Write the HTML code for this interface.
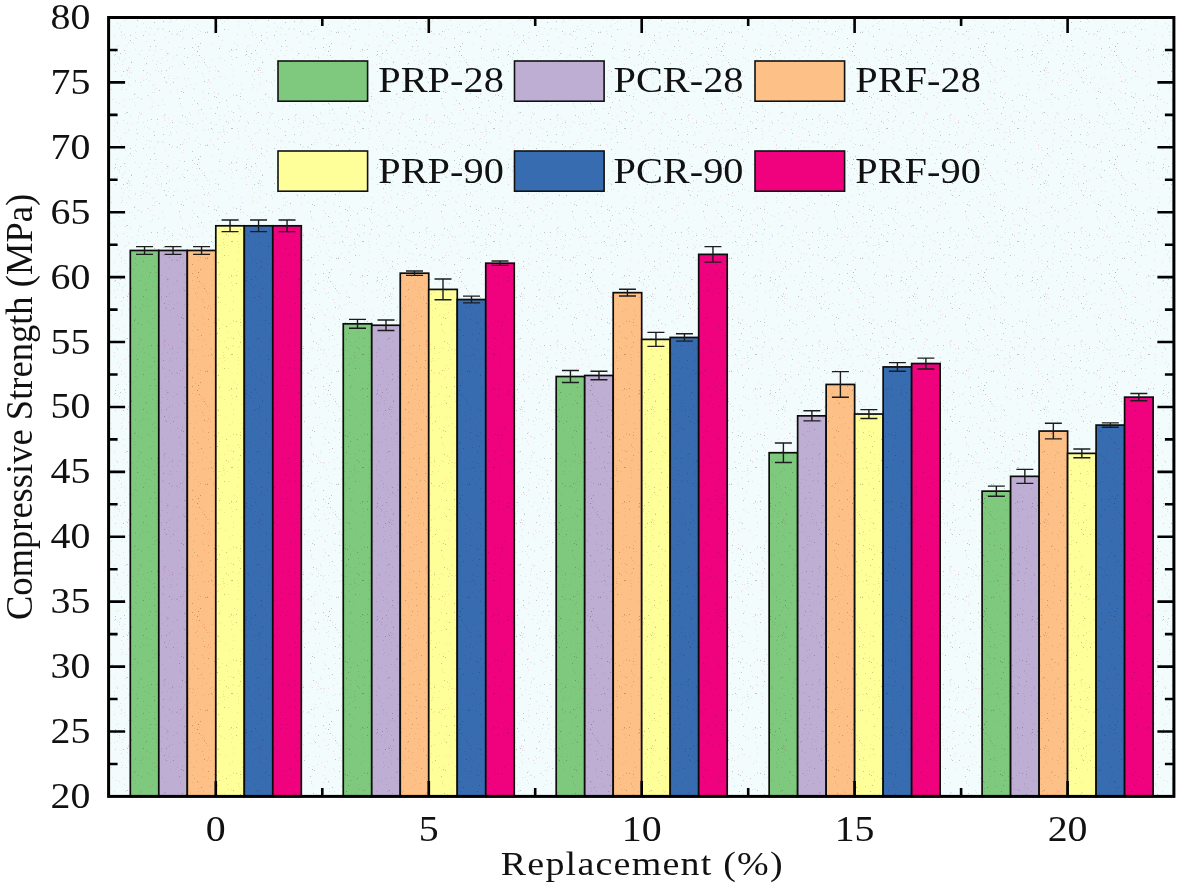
<!DOCTYPE html>
<html lang="en"><head><meta charset="utf-8"><title>Compressive Strength vs Replacement</title>
<style>html,body{margin:0;padding:0;background:#fff}body{width:1180px;height:888px;overflow:hidden}svg{display:block}text{font-family:"Liberation Serif","Times New Roman",serif;fill:#111}</style>
</head><body>
<svg width="1180" height="888" viewBox="0 0 1180 888">
<rect x="0" y="0" width="1180" height="888" fill="#ffffff"/>
<rect x="108.6" y="17.5" width="1065.3" height="778.9" fill="#f3fcfd"/>
<g stroke="#0c0c0c" stroke-width="1.7">
<rect x="130.30" y="250.47" width="28.50" height="545.93" fill="#7fc97f"/>
<rect x="158.80" y="250.47" width="28.50" height="545.93" fill="#beaed4"/>
<rect x="187.30" y="250.47" width="28.50" height="545.93" fill="#fdc086"/>
<rect x="215.80" y="225.81" width="28.50" height="570.59" fill="#ffff99"/>
<rect x="244.30" y="225.81" width="28.50" height="570.59" fill="#386cb0"/>
<rect x="272.80" y="225.81" width="28.50" height="570.59" fill="#f0027f"/>
<rect x="343.25" y="323.82" width="28.50" height="472.58" fill="#7fc97f"/>
<rect x="371.75" y="325.25" width="28.50" height="471.15" fill="#beaed4"/>
<rect x="400.25" y="273.19" width="28.50" height="523.21" fill="#fdc086"/>
<rect x="428.75" y="289.42" width="28.50" height="506.98" fill="#ffff99"/>
<rect x="457.25" y="299.54" width="28.50" height="496.86" fill="#386cb0"/>
<rect x="485.75" y="263.19" width="28.50" height="533.21" fill="#f0027f"/>
<rect x="556.20" y="376.52" width="28.50" height="419.88" fill="#7fc97f"/>
<rect x="584.70" y="375.49" width="28.50" height="420.91" fill="#beaed4"/>
<rect x="613.20" y="292.66" width="28.50" height="503.74" fill="#fdc086"/>
<rect x="641.70" y="339.40" width="28.50" height="457.00" fill="#ffff99"/>
<rect x="670.20" y="337.45" width="28.50" height="458.95" fill="#386cb0"/>
<rect x="698.70" y="254.37" width="28.50" height="542.03" fill="#f0027f"/>
<rect x="769.15" y="452.73" width="28.50" height="343.67" fill="#7fc97f"/>
<rect x="797.65" y="415.86" width="28.50" height="380.54" fill="#beaed4"/>
<rect x="826.15" y="384.44" width="28.50" height="411.96" fill="#fdc086"/>
<rect x="854.65" y="414.04" width="28.50" height="382.36" fill="#ffff99"/>
<rect x="883.15" y="366.92" width="28.50" height="429.48" fill="#386cb0"/>
<rect x="911.65" y="363.54" width="28.50" height="432.86" fill="#f0027f"/>
<rect x="982.10" y="491.15" width="28.50" height="305.25" fill="#7fc97f"/>
<rect x="1010.60" y="476.35" width="28.50" height="320.05" fill="#beaed4"/>
<rect x="1039.10" y="431.05" width="28.50" height="365.35" fill="#fdc086"/>
<rect x="1067.60" y="453.38" width="28.50" height="343.02" fill="#ffff99"/>
<rect x="1096.10" y="425.08" width="28.50" height="371.32" fill="#386cb0"/>
<rect x="1124.60" y="397.16" width="28.50" height="399.24" fill="#f0027f"/>
</g>
<g stroke="#1c1c1c" stroke-width="1.4" fill="none">
<path d="M144.55 246.58V254.37M136.05 246.58h17M136.05 254.37h17"/>
<path d="M173.05 246.58V254.37M164.55 246.58h17M164.55 254.37h17"/>
<path d="M201.55 246.58V254.37M193.05 246.58h17M193.05 254.37h17"/>
<path d="M230.05 219.96V231.65M221.55 219.96h17M221.55 231.65h17"/>
<path d="M258.55 219.96V231.65M250.05 219.96h17M250.05 231.65h17"/>
<path d="M287.05 219.96V231.65M278.55 219.96h17M278.55 231.65h17"/>
<path d="M357.50 319.40V328.23M349.00 319.40h17M349.00 328.23h17"/>
<path d="M386.00 320.05V330.44M377.50 320.05h17M377.50 330.44h17"/>
<path d="M414.50 270.98V275.40M406.00 270.98h17M406.00 275.40h17"/>
<path d="M443.00 279.03V299.80M434.50 279.03h17M434.50 299.80h17"/>
<path d="M471.50 296.17V302.92M463.00 296.17h17M463.00 302.92h17"/>
<path d="M500.00 260.99V265.40M491.50 260.99h17M491.50 265.40h17"/>
<path d="M570.45 370.55V382.50M561.95 370.55h17M561.95 382.50h17"/>
<path d="M598.95 371.20V379.77M590.45 371.20h17M590.45 379.77h17"/>
<path d="M627.45 289.29V296.04M618.95 289.29h17M618.95 296.04h17"/>
<path d="M655.95 332.39V346.41M647.45 332.39h17M647.45 346.41h17"/>
<path d="M684.45 333.81V341.08M675.95 333.81h17M675.95 341.08h17"/>
<path d="M712.95 246.58V262.16M704.45 246.58h17M704.45 262.16h17"/>
<path d="M783.40 442.99V462.46M774.90 442.99h17M774.90 462.46h17"/>
<path d="M811.90 410.80V420.92M803.40 410.80h17M803.40 420.92h17"/>
<path d="M840.40 371.59V397.29M831.90 371.59h17M831.90 397.29h17"/>
<path d="M868.90 409.63V418.45M860.40 409.63h17M860.40 418.45h17"/>
<path d="M897.40 362.63V371.20M888.90 362.63h17M888.90 371.20h17"/>
<path d="M925.90 358.09V368.99M917.40 358.09h17M917.40 368.99h17"/>
<path d="M996.35 486.09V496.21M987.85 486.09h17M987.85 496.21h17"/>
<path d="M1024.85 469.34V483.36M1016.35 469.34h17M1016.35 483.36h17"/>
<path d="M1053.35 423.26V438.84M1044.85 423.26h17M1044.85 438.84h17"/>
<path d="M1081.85 448.96V457.79M1073.35 448.96h17M1073.35 457.79h17"/>
<path d="M1110.35 422.87V427.28M1101.85 422.87h17M1101.85 427.28h17"/>
<path d="M1138.85 393.53V400.80M1130.35 393.53h17M1130.35 400.80h17"/>
</g>
<defs><pattern id="nz" width="131" height="113" patternUnits="userSpaceOnUse">
<path fill="#b9a58a" fill-opacity=".25" d="M82 19h1v1h-1zM101 83h1v1h-1zM12 9h1v1h-1zM24 46h1v1h-1zM14 64h1v1h-1zM54 4h1v1h-1zM22 55h1v1h-1zM107 8h1v1h-1zM61 11h1v1h-1zM108 7h1v1h-1zM31 28h1v1h-1zM15 73h1v1h-1zM101 6h1v1h-1zM56 5h1v1h-1zM34 37h1v1h-1zM107 18h1v1h-1zM30 73h1v1h-1zM78 71h1v1h-1zM46 13h1v1h-1zM48 47h1v1h-1zM24 70h1v1h-1zM16 72h1v1h-1zM15 79h1v1h-1zM52 63h1v1h-1zM109 99h1v1h-1zM80 59h1v1h-1zM116 46h1v1h-1zM76 31h1v1h-1zM46 89h1v1h-1zM62 10h1v1h-1zM76 67h1v1h-1zM126 112h1v1h-1zM87 93h1v1h-1zM114 36h1v1h-1zM18 15h1v1h-1zM107 21h1v1h-1zM87 19h1v1h-1zM125 53h1v1h-1zM10 85h1v1h-1zM19 97h1v1h-1zM80 43h1v1h-1zM89 76h1v1h-1zM127 74h1v1h-1zM116 8h1v1h-1zM23 34h1v1h-1zM121 89h1v1h-1zM16 7h1v1h-1zM79 82h1v1h-1zM114 36h1v1h-1zM98 85h1v1h-1zM88 2h1v1h-1zM118 45h1v1h-1zM43 78h1v1h-1zM29 63h1v1h-1zM15 27h1v1h-1zM73 16h1v1h-1zM63 50h1v1h-1zM100 111h1v1h-1zM127 10h1v1h-1zM42 57h1v1h-1zM102 70h1v1h-1zM71 17h1v1h-1zM110 110h1v1h-1zM71 90h1v1h-1zM106 45h1v1h-1zM97 29h1v1h-1zM38 10h1v1h-1zM45 19h1v1h-1zM59 84h1v1h-1zM59 1h1v1h-1zM124 106h1v1h-1zM46 33h1v1h-1zM72 0h1v1h-1zM37 53h1v1h-1zM94 78h1v1h-1zM81 16h1v1h-1zM13 58h1v1h-1zM100 50h1v1h-1zM102 50h1v1h-1zM26 61h1v1h-1zM102 7h1v1h-1zM48 8h1v1h-1zM53 56h1v1h-1zM41 14h1v1h-1zM87 76h1v1h-1zM13 13h1v1h-1zM0 72h1v1h-1zM38 68h1v1h-1zM25 46h1v1h-1zM6 9h1v1h-1zM53 78h1v1h-1zM96 19h1v1h-1zM64 44h1v1h-1zM93 60h1v1h-1zM31 14h1v1h-1zM124 59h1v1h-1zM122 61h1v1h-1zM79 10h1v1h-1zM36 13h1v1h-1zM87 94h1v1h-1zM67 61h1v1h-1zM41 66h1v1h-1zM5 26h1v1h-1zM92 18h1v1h-1zM6 97h1v1h-1zM76 82h1v1h-1zM23 89h1v1h-1zM66 66h1v1h-1zM93 21h1v1h-1zM91 98h1v1h-1zM57 68h1v1h-1zM128 42h1v1h-1zM57 78h1v1h-1zM49 103h1v1h-1zM61 104h1v1h-1zM102 94h1v1h-1zM58 25h1v1h-1zM126 45h1v1h-1zM7 3h1v1h-1zM71 60h1v1h-1zM66 24h1v1h-1zM88 57h1v1h-1zM89 46h1v1h-1zM20 28h1v1h-1zM26 29h1v1h-1zM120 25h1v1h-1zM86 26h1v1h-1zM123 79h1v1h-1zM0 61h1v1h-1zM88 102h1v1h-1zM21 106h1v1h-1zM30 49h1v1h-1zM51 61h1v1h-1zM45 55h1v1h-1zM85 11h1v1h-1zM101 59h1v1h-1zM102 95h1v1h-1zM21 92h1v1h-1zM40 21h1v1h-1zM32 3h1v1h-1zM38 75h1v1h-1zM119 103h1v1h-1zM37 78h1v1h-1zM121 84h1v1h-1zM89 19h1v1h-1zM33 2h1v1h-1zM3 102h1v1h-1zM26 67h1v1h-1zM35 55h1v1h-1zM49 105h1v1h-1zM54 3h1v1h-1zM64 27h1v1h-1zM74 64h1v1h-1zM61 97h1v1h-1zM83 33h1v1h-1zM107 106h1v1h-1zM33 7h1v1h-1zM90 58h1v1h-1zM107 105h1v1h-1zM128 16h1v1h-1zM38 67h1v1h-1zM130 2h1v1h-1zM112 99h1v1h-1zM46 77h1v1h-1zM1 99h1v1h-1zM38 22h1v1h-1zM36 60h1v1h-1zM30 71h1v1h-1zM15 41h1v1h-1zM123 100h1v1h-1zM27 71h1v1h-1zM14 31h1v1h-1zM48 35h1v1h-1zM10 98h1v1h-1zM25 64h1v1h-1zM115 71h1v1h-1zM7 97h1v1h-1zM16 56h1v1h-1zM83 78h1v1h-1zM129 77h1v1h-1zM51 88h1v1h-1zM70 57h1v1h-1zM130 68h1v1h-1zM122 64h1v1h-1zM63 89h1v1h-1zM66 71h1v1h-1zM51 107h1v1h-1zM114 17h1v1h-1zM106 15h1v1h-1zM100 56h1v1h-1zM80 9h1v1h-1zM61 54h1v1h-1zM18 27h1v1h-1zM77 100h1v1h-1zM31 99h1v1h-1zM39 91h1v1h-1zM93 18h1v1h-1zM64 17h1v1h-1zM119 28h1v1h-1zM24 50h1v1h-1zM124 20h1v1h-1zM57 20h1v1h-1zM110 65h1v1h-1zM103 43h1v1h-1zM107 25h1v1h-1zM91 40h1v1h-1zM23 92h1v1h-1zM93 2h1v1h-1zM86 70h1v1h-1zM117 56h1v1h-1zM4 49h1v1h-1zM84 66h1v1h-1zM75 65h1v1h-1zM16 14h1v1h-1zM58 112h1v1h-1zM26 10h1v1h-1zM67 34h1v1h-1zM10 99h1v1h-1zM46 34h1v1h-1zM33 104h1v1h-1zM108 108h1v1h-1zM66 51h1v1h-1zM38 68h1v1h-1zM126 89h1v1h-1zM83 11h1v1h-1zM71 7h1v1h-1zM46 54h1v1h-1zM18 34h1v1h-1zM4 81h1v1h-1zM22 102h1v1h-1z"/>
<path fill="#f06aa8" fill-opacity=".22" d="M66 10h1v1h-1zM56 8h1v1h-1zM67 110h1v1h-1zM31 58h1v1h-1zM2 43h1v1h-1zM106 34h1v1h-1zM33 5h1v1h-1zM61 14h1v1h-1zM41 33h1v1h-1zM12 23h1v1h-1zM51 39h1v1h-1zM78 67h1v1h-1zM52 37h1v1h-1zM114 64h1v1h-1zM45 34h1v1h-1zM88 102h1v1h-1zM4 32h1v1h-1zM9 1h1v1h-1zM4 93h1v1h-1zM129 70h1v1h-1zM48 65h1v1h-1zM121 31h1v1h-1zM114 13h1v1h-1zM110 84h1v1h-1zM126 69h1v1h-1zM100 64h1v1h-1zM78 88h1v1h-1zM55 29h1v1h-1zM87 25h1v1h-1zM35 51h1v1h-1zM88 6h1v1h-1zM33 1h1v1h-1zM18 80h1v1h-1zM65 55h1v1h-1zM41 7h1v1h-1zM21 85h1v1h-1zM97 111h1v1h-1zM129 85h1v1h-1zM72 76h1v1h-1zM62 88h1v1h-1zM75 5h1v1h-1zM117 23h1v1h-1zM40 34h1v1h-1zM114 0h1v1h-1zM67 46h1v1h-1zM84 70h1v1h-1zM82 31h1v1h-1zM8 112h1v1h-1zM79 27h1v1h-1zM91 23h1v1h-1zM0 42h1v1h-1zM97 10h1v1h-1zM121 35h1v1h-1zM128 83h1v1h-1zM51 31h1v1h-1zM129 99h1v1h-1zM1 11h1v1h-1zM67 104h1v1h-1zM22 18h1v1h-1zM102 75h1v1h-1zM10 50h1v1h-1zM5 38h1v1h-1zM77 80h1v1h-1zM59 10h1v1h-1zM39 84h1v1h-1zM99 97h1v1h-1zM83 92h1v1h-1zM126 19h1v1h-1zM72 92h1v1h-1zM37 5h1v1h-1zM109 93h1v1h-1zM129 17h1v1h-1zM129 72h1v1h-1zM4 105h1v1h-1zM58 10h1v1h-1zM7 5h1v1h-1zM34 81h1v1h-1zM92 13h1v1h-1zM96 106h1v1h-1zM115 71h1v1h-1zM12 80h1v1h-1zM4 80h1v1h-1zM62 62h1v1h-1zM67 0h1v1h-1zM116 102h1v1h-1zM17 95h1v1h-1zM128 68h1v1h-1zM23 84h1v1h-1zM16 95h1v1h-1zM121 32h1v1h-1zM19 108h1v1h-1zM67 30h1v1h-1zM52 29h1v1h-1zM117 63h1v1h-1zM97 9h1v1h-1zM122 87h1v1h-1zM73 98h1v1h-1zM11 78h1v1h-1zM50 9h1v1h-1zM37 42h1v1h-1zM65 83h1v1h-1zM77 79h1v1h-1zM34 1h1v1h-1zM123 7h1v1h-1zM124 34h1v1h-1zM25 88h1v1h-1zM55 86h1v1h-1zM125 37h1v1h-1zM73 59h1v1h-1zM119 59h1v1h-1zM30 70h1v1h-1zM51 39h1v1h-1zM21 60h1v1h-1zM4 37h1v1h-1zM117 9h1v1h-1zM129 57h1v1h-1zM68 49h1v1h-1zM53 26h1v1h-1zM19 74h1v1h-1zM23 18h1v1h-1z"/>
<path fill="#5a3f58" fill-opacity=".3" d="M67 46h1v1h-1zM33 77h1v1h-1zM130 35h1v1h-1zM28 90h1v1h-1zM93 29h1v1h-1zM127 112h1v1h-1zM124 50h1v1h-1zM6 20h1v1h-1zM0 62h1v1h-1zM115 51h1v1h-1zM77 93h1v1h-1zM36 53h1v1h-1zM88 48h1v1h-1zM80 15h1v1h-1zM84 0h1v1h-1zM83 96h1v1h-1zM86 107h1v1h-1zM101 15h1v1h-1zM50 91h1v1h-1zM3 94h1v1h-1zM74 32h1v1h-1zM95 8h1v1h-1zM100 49h1v1h-1zM19 46h1v1h-1zM109 96h1v1h-1zM70 109h1v1h-1zM12 35h1v1h-1zM26 6h1v1h-1zM73 81h1v1h-1zM38 31h1v1h-1zM68 55h1v1h-1zM130 40h1v1h-1zM48 98h1v1h-1zM95 100h1v1h-1zM109 3h1v1h-1zM102 112h1v1h-1zM52 92h1v1h-1zM20 6h1v1h-1zM105 57h1v1h-1zM35 82h1v1h-1zM73 62h1v1h-1zM12 70h1v1h-1zM32 21h1v1h-1zM120 53h1v1h-1zM87 36h1v1h-1zM76 32h1v1h-1zM66 51h1v1h-1zM61 38h1v1h-1zM123 71h1v1h-1zM100 15h1v1h-1zM42 82h1v1h-1zM41 9h1v1h-1zM53 64h1v1h-1zM127 70h1v1h-1zM56 57h1v1h-1zM85 97h1v1h-1zM115 54h1v1h-1zM35 70h1v1h-1zM49 31h1v1h-1zM23 22h1v1h-1zM87 71h1v1h-1zM23 40h1v1h-1zM61 47h1v1h-1zM66 103h1v1h-1zM51 2h1v1h-1zM105 49h1v1h-1zM105 95h1v1h-1zM53 48h1v1h-1zM69 43h1v1h-1zM15 63h1v1h-1z"/>
<path fill="#4d8fd0" fill-opacity=".25" d="M71 73h1v1h-1zM92 16h1v1h-1zM128 67h1v1h-1zM55 11h1v1h-1zM69 31h1v1h-1zM98 51h1v1h-1zM114 55h1v1h-1zM79 108h1v1h-1zM5 16h1v1h-1zM8 54h1v1h-1zM121 75h1v1h-1zM125 0h1v1h-1zM18 50h1v1h-1zM119 57h1v1h-1zM63 100h1v1h-1zM27 28h1v1h-1zM39 19h1v1h-1zM27 105h1v1h-1zM117 10h1v1h-1zM10 0h1v1h-1zM32 29h1v1h-1zM9 82h1v1h-1zM77 16h1v1h-1zM64 67h1v1h-1zM111 89h1v1h-1z"/>
</pattern></defs>
<rect x="108.6" y="17.5" width="1065.3" height="778.9" fill="url(#nz)" style="mix-blend-mode:multiply"/>
<g stroke="#000" stroke-width="3" fill="none">
<path stroke-width="2.6" d="M215.8 17.5v15.5M215.8 796.4v-15.5M428.8 17.5v15.5M428.8 796.4v-15.5M641.7 17.5v15.5M641.7 796.4v-15.5M854.6 17.5v15.5M854.6 796.4v-15.5M1067.6 17.5v15.5M1067.6 796.4v-15.5M322.3 17.5v8.5M322.3 796.4v-8.5M535.2 17.5v8.5M535.2 796.4v-8.5M748.2 17.5v8.5M748.2 796.4v-8.5M961.1 17.5v8.5M961.1 796.4v-8.5M108.6 763.95h9.0M1173.9 763.95h-9.0M108.6 731.49h16.5M1173.9 731.49h-16.5M108.6 699.04h9.0M1173.9 699.04h-9.0M108.6 666.58h16.5M1173.9 666.58h-16.5M108.6 634.13h9.0M1173.9 634.13h-9.0M108.6 601.67h16.5M1173.9 601.67h-16.5M108.6 569.22h9.0M1173.9 569.22h-9.0M108.6 536.77h16.5M1173.9 536.77h-16.5M108.6 504.31h9.0M1173.9 504.31h-9.0M108.6 471.86h16.5M1173.9 471.86h-16.5M108.6 439.40h9.0M1173.9 439.40h-9.0M108.6 406.95h16.5M1173.9 406.95h-16.5M108.6 374.50h9.0M1173.9 374.50h-9.0M108.6 342.04h16.5M1173.9 342.04h-16.5M108.6 309.59h9.0M1173.9 309.59h-9.0M108.6 277.13h16.5M1173.9 277.13h-16.5M108.6 244.68h9.0M1173.9 244.68h-9.0M108.6 212.22h16.5M1173.9 212.22h-16.5M108.6 179.77h9.0M1173.9 179.77h-9.0M108.6 147.32h16.5M1173.9 147.32h-16.5M108.6 114.86h9.0M1173.9 114.86h-9.0M108.6 82.41h16.5M1173.9 82.41h-16.5M108.6 49.95h9.0M1173.9 49.95h-9.0"/>
<rect x="108.6" y="17.5" width="1065.3" height="778.9"/>
</g>
<text transform="translate(90.3 807.9) scale(1.095 1)" font-size="36.4" text-anchor="end">20</text>
<text transform="translate(90.3 743.0) scale(1.095 1)" font-size="36.4" text-anchor="end">25</text>
<text transform="translate(90.3 678.1) scale(1.095 1)" font-size="36.4" text-anchor="end">30</text>
<text transform="translate(90.3 613.2) scale(1.095 1)" font-size="36.4" text-anchor="end">35</text>
<text transform="translate(90.3 548.3) scale(1.095 1)" font-size="36.4" text-anchor="end">40</text>
<text transform="translate(90.3 483.4) scale(1.095 1)" font-size="36.4" text-anchor="end">45</text>
<text transform="translate(90.3 418.4) scale(1.095 1)" font-size="36.4" text-anchor="end">50</text>
<text transform="translate(90.3 353.5) scale(1.095 1)" font-size="36.4" text-anchor="end">55</text>
<text transform="translate(90.3 288.6) scale(1.095 1)" font-size="36.4" text-anchor="end">60</text>
<text transform="translate(90.3 223.7) scale(1.095 1)" font-size="36.4" text-anchor="end">65</text>
<text transform="translate(90.3 158.8) scale(1.095 1)" font-size="36.4" text-anchor="end">70</text>
<text transform="translate(90.3 93.9) scale(1.095 1)" font-size="36.4" text-anchor="end">75</text>
<text transform="translate(90.3 29.0) scale(1.095 1)" font-size="36.4" text-anchor="end">80</text>
<text transform="translate(215.8 841.0) scale(1.095 1)" font-size="36.4" text-anchor="middle">0</text>
<text transform="translate(428.8 841.0) scale(1.095 1)" font-size="36.4" text-anchor="middle">5</text>
<text transform="translate(641.7 841.0) scale(1.095 1)" font-size="36.4" text-anchor="middle">10</text>
<text transform="translate(854.6 841.0) scale(1.095 1)" font-size="36.4" text-anchor="middle">15</text>
<text transform="translate(1067.6 841.0) scale(1.095 1)" font-size="36.4" text-anchor="middle">20</text>
<text transform="translate(642.3 875) scale(1.095 1)" font-size="34.7" letter-spacing="1.12" text-anchor="middle">Replacement (%)</text>
<text transform="translate(31.8 407) rotate(-90) scale(1.004 1.07)" font-size="36.4" text-anchor="middle">Compressive Strength (MPa)</text>
<rect x="278.0" y="61.0" width="89.6" height="40.2" fill="#7fc97f" stroke="#111" stroke-width="1.6"/>
<text transform="translate(378.3 91.6) scale(1.108 1)" font-size="36.4" text-anchor="start">PRP-28</text>
<rect x="514.5" y="61.0" width="89.6" height="40.2" fill="#beaed4" stroke="#111" stroke-width="1.6"/>
<text transform="translate(613.5 91.6) scale(1.108 1)" font-size="36.4" text-anchor="start">PCR-28</text>
<rect x="755.0" y="61.0" width="89.6" height="40.2" fill="#fdc086" stroke="#111" stroke-width="1.6"/>
<text transform="translate(855.3 91.6) scale(1.108 1)" font-size="36.4" text-anchor="start">PRF-28</text>
<rect x="278.0" y="151.0" width="89.6" height="40.2" fill="#ffff99" stroke="#111" stroke-width="1.6"/>
<text transform="translate(378.3 183.3) scale(1.108 1)" font-size="36.4" text-anchor="start">PRP-90</text>
<rect x="514.5" y="151.0" width="89.6" height="40.2" fill="#386cb0" stroke="#111" stroke-width="1.6"/>
<text transform="translate(613.5 183.3) scale(1.108 1)" font-size="36.4" text-anchor="start">PCR-90</text>
<rect x="755.0" y="151.0" width="89.6" height="40.2" fill="#f0027f" stroke="#111" stroke-width="1.6"/>
<text transform="translate(855.3 183.3) scale(1.108 1)" font-size="36.4" text-anchor="start">PRF-90</text>
</svg>
</body></html>
